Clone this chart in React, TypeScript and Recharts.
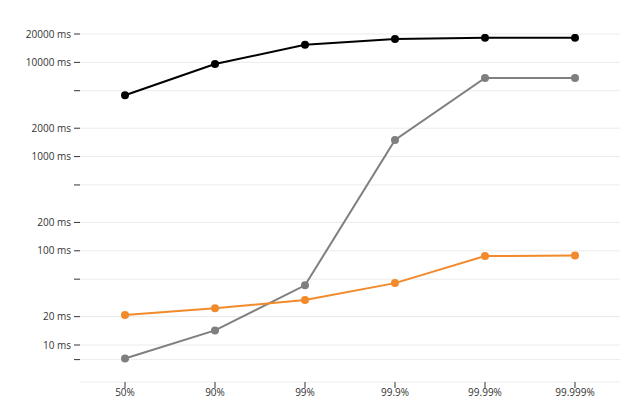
import { LineChart, Line, XAxis, YAxis, CartesianGrid } from "recharts";

// percentile categories along the x axis
const percentiles = ["50%", "90%", "99%", "99.9%", "99.99%", "99.999%"];

// latency values in ms
const blackSeries = [4470, 9590, 15380, 17660, 18230, 18230];
const graySeries = [7.2, 14.3, 43, 1503, 6820, 6820];
const orangeSeries = [20.8, 24.5, 30, 45.4, 87.9, 89.3];

// y ticks: only the 1s and 2s carry a label
const yTicks = [7, 10, 20, 50, 100, 200, 500, 1000, 2000, 5000, 10000, 20000];
const labeledTicks = [10, 20, 100, 200, 1000, 2000, 10000, 20000];

const data = percentiles.map((p, i) => ({
  p,
  black: blackSeries[i],
  gray: graySeries[i],
  orange: orangeSeries[i],
}));

const fmtY = (v: number) => (labeledTicks.includes(v) ? `${v} ms` : "");

export default function App() {
  return (
    <div style={{ position: "absolute", left: 0, top: 0, fontFamily: "'Open Sans', sans-serif" }}>
      <LineChart
        width={640}
        height={400}
        data={data}
        margin={{ top: 34, right: 20, left: 0, bottom: 0 }}
      >
        <CartesianGrid vertical={false} stroke="#ebebeb" />
        <XAxis
          dataKey="p"
          axisLine={false}
          tickLine={{ stroke: "#333" }}
          tickSize={6}
          tickMargin={1}
          height={18}
          interval={0}
          padding={{ left: 45, right: 45 }}
          tick={{ fontSize: 10, fill: "#333" }}
        />
        <YAxis
          scale="log"
          domain={[4.05, 20000]}
          ticks={yTicks}
          tickFormatter={fmtY}
          allowDataOverflow
          axisLine={false}
          tickLine={{ stroke: "#333" }}
          tickSize={6}
          tickMargin={3}
          width={80}
          interval={0}
          tick={{ fontSize: 10, fill: "#333" }}
        />
        <Line
          dataKey="gray"
          stroke="#7f7f7f"
          strokeWidth={2}
          dot={{ r: 4, fill: "#7f7f7f", stroke: "none" }}
          isAnimationActive={false}
        />
        <Line
          dataKey="orange"
          stroke="#f28a2b"
          strokeWidth={2}
          dot={{ r: 4, fill: "#f28a2b", stroke: "none" }}
          isAnimationActive={false}
        />
        <Line
          dataKey="black"
          stroke="#000"
          strokeWidth={2}
          dot={{ r: 4, fill: "#000", stroke: "none" }}
          isAnimationActive={false}
        />
      </LineChart>
    </div>
  );
}
